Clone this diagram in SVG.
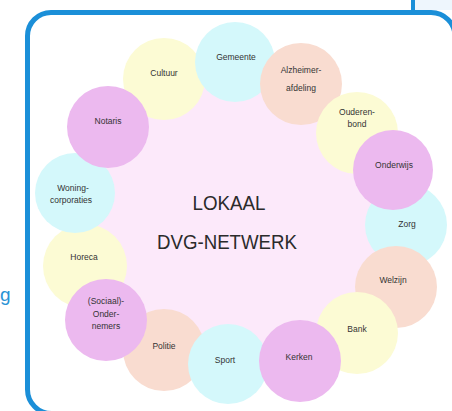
<svg xmlns="http://www.w3.org/2000/svg" width="452" height="411" viewBox="0 0 452 411">
<style>
.bd{fill:none;stroke:#1b8fd8;stroke-width:5}
.c{stroke:none}
.cy{fill:#d4f8fb}
.ye{fill:#fcfbd4}
.pe{fill:#f9dcd0}
.pu{fill:#ecb9ef}
.t{font-family:"Liberation Sans",Arial,sans-serif;font-size:8.5px;fill:#333;text-anchor:middle}
.big{font-family:"Liberation Sans",Arial,sans-serif;font-size:21px;fill:#2b2b2b;text-anchor:middle}
</style>
<rect width="452" height="411" fill="#ffffff"/>
<g id="frame">
<rect x="415" y="0" width="37" height="10" fill="#eef6fd"/>
<line x1="413" y1="0" x2="413" y2="12" stroke="#1b8fd8" stroke-width="4"/>
<path class="bd" d="M431,413.5 H51.5 A24,24 0 0 1 27.5,389.5 V36 A23.5,23.5 0 0 1 51,12.5 H431 A24,24 0 0 1 455,36.5"/>
<text x="0" y="301" font-family="Liberation Sans,Arial,sans-serif" font-size="19" fill="#2a93d5">g</text>
</g>
<g id="center">
<circle cx="235" cy="220" r="150" fill="#fce9fa"/>
<text class="big" x="229" y="210" textLength="73" lengthAdjust="spacingAndGlyphs">LOKAAL</text>
<text class="big" x="227" y="249" textLength="140" lengthAdjust="spacingAndGlyphs">DVG-NETWERK</text>
</g>
<g id="cultuur"><circle class="c ye" cx="164" cy="79" r="41"/><text class="t" x="164" y="76">Cultuur</text></g>
<g id="gemeente"><circle class="c cy" cx="235" cy="62" r="40"/><text class="t" x="236" y="60">Gemeente</text></g>
<g id="alzheimer"><circle class="c pe" cx="301" cy="84" r="41"/><text class="t" x="301" y="73">Alzheimer-</text><text class="t" x="301" y="91">afdeling</text></g>
<g id="ouderenbond"><circle class="c ye" cx="357" cy="133" r="41"/><text class="t" x="357" y="115">Ouderen-</text><text class="t" x="357" y="127">bond</text></g>
<g id="zorg"><circle class="c cy" cx="406" cy="225" r="41"/><text class="t" x="407" y="227">Zorg</text></g>
<g id="welzijn"><circle class="c pe" cx="396" cy="287" r="41"/><text class="t" x="393" y="283">Welzijn</text></g>
<g id="bank"><circle class="c ye" cx="357" cy="333" r="41"/><text class="t" x="357" y="332">Bank</text></g>
<g id="politie"><circle class="c pe" cx="164" cy="350" r="41"/><text class="t" x="164" y="349">Politie</text></g>
<g id="sport"><circle class="c cy" cx="228" cy="364" r="40"/><text class="t" x="225" y="363">Sport</text></g>
<g id="horeca"><circle class="c ye" cx="85" cy="266" r="42"/><text class="t" x="84" y="260">Horeca</text></g>
<g id="woningcorporaties"><circle class="c cy" cx="75" cy="193" r="40"/><text class="t" x="73" y="191">Woning-</text><text class="t" x="71" y="203">corporaties</text></g>
<g id="notaris"><circle class="c pu" cx="108" cy="127" r="41"/><text class="t" x="108" y="124">Notaris</text></g>
<g id="onderwijs"><circle class="c pu" cx="393" cy="170" r="40"/><text class="t" x="394" y="168">Onderwijs</text></g>
<g id="kerken"><circle class="c pu" cx="300" cy="361" r="41"/><text class="t" x="299" y="360">Kerken</text></g>
<g id="sociaal-ondernemers"><circle class="c pu" cx="106" cy="320" r="41"/><text class="t" x="106" y="304">(Sociaal)-</text><text class="t" x="106" y="317">Onder-</text><text class="t" x="106" y="329">nemers</text></g>
<g id="connectors"></g>
</svg>
